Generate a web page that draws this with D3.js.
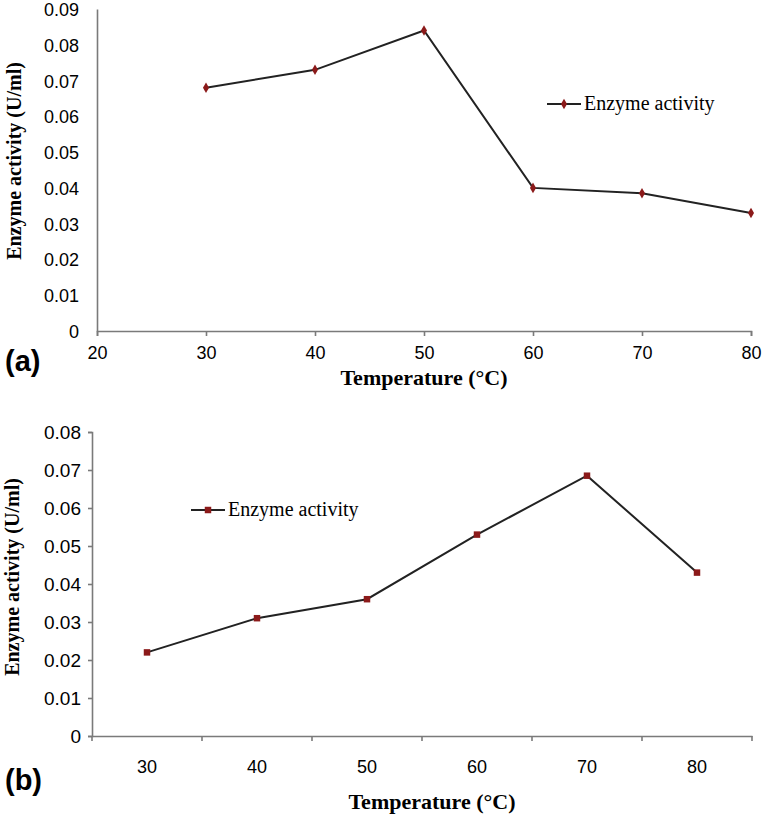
<!DOCTYPE html>
<html><head><meta charset="utf-8">
<script src="https://cdn.jsdelivr.net/npm/d3@7"></script>
<style>
html,body{margin:0;padding:0;background:#fff;}
svg{display:block;}
</style></head>
<body>
<svg id="chart" width="765" height="818"></svg>
<script>
// Panel (a)
const tempsA = [30, 40, 50, 60, 70, 80];
const activityA = [0.068, 0.073, 0.084, 0.040, 0.0385, 0.033];
const xTicksA = [20, 30, 40, 50, 60, 70, 80];
const yTicksA = [0, 0.01, 0.02, 0.03, 0.04, 0.05, 0.06, 0.07, 0.08, 0.09];
// Panel (b)
const tempsB = ["30", "40", "50", "60", "70", "80"];
const activityB = [0.022, 0.031, 0.036, 0.053, 0.0685, 0.043];
const yTicksB = [0, 0.01, 0.02, 0.03, 0.04, 0.05, 0.06, 0.07, 0.08];
const seriesName = "Enzyme activity";
const xTitle = "Temperature (\u00B0C)";
const yTitle = "Enzyme activity  (U/ml)";

const svg = d3.select("#chart");
const axisColor = "#7a7a7a";
const lineColor = "#222";
const markColor = "#8b1a1a";
const tickFont = "'Liberation Sans', Arial, sans-serif";
const serif = "'Liberation Serif', 'Times New Roman', serif";

// ---------- Panel (a) ----------
const xA = d3.scaleLinear().domain([20, 80]).range([97, 751]);
const yA = d3.scaleLinear().domain([0, 0.09]).range([331, 9]);
const gA = svg.append("g");

gA.append("g").attr("transform", `translate(0,${yA(0)})`)
  .call(d3.axisBottom(xA).tickValues(xTicksA).tickSize(5).tickFormat(d3.format("d")))
  .call(g => {
    g.select(".domain").attr("stroke", axisColor).attr("stroke-width", 1.6);
    g.selectAll(".tick line").attr("stroke", axisColor).attr("stroke-width", 1.6);
    g.selectAll(".tick text").attr("font-family", tickFont).attr("font-size", 18)
      .attr("fill", "#000").attr("dy", null).attr("y", 28);
  });
gA.append("g").attr("transform", `translate(${xA(20)},0)`)
  .call(d3.axisLeft(yA).tickValues(yTicksA).tickSize(0).tickPadding(0)
    .tickFormat(d => d === 0 ? "0" : d3.format(".2f")(d)))
  .call(g => {
    g.select(".domain").attr("stroke", axisColor).attr("stroke-width", 1.6);
    g.selectAll(".tick text").attr("font-family", tickFont).attr("font-size", 18)
      .attr("fill", "#000").attr("x", -18).attr("dy", "0.36em");
  });

gA.append("path").datum(tempsA.map((t, i) => [t, activityA[i]]))
  .attr("fill", "none").attr("stroke", lineColor).attr("stroke-width", 2)
  .attr("d", d3.line().x(d => xA(d[0])).y(d => yA(d[1])));
gA.selectAll(".mA").data(tempsA.map((t, i) => [t, activityA[i]])).join("path")
  .attr("transform", d => `translate(${xA(d[0])},${yA(d[1])})`)
  .attr("d", d3.symbol(d3.symbolDiamond, 32)).attr("fill", markColor);

// legend a
const legA = gA.append("g").attr("transform", "translate(547,104)");
legA.append("line").attr("x1", 0).attr("x2", 34).attr("stroke", lineColor).attr("stroke-width", 2);
legA.append("path").attr("transform", "translate(17,0)").attr("d", d3.symbol(d3.symbolDiamond, 32)).attr("fill", markColor);
legA.append("text").attr("x", 37).attr("y", 6).text(seriesName)
  .attr("font-family", serif).attr("font-size", 20).attr("fill", "#000");

gA.append("text").attr("x", 424).attr("y", 385).attr("text-anchor", "middle")
  .attr("font-family", serif).attr("font-weight", "bold").attr("font-size", 22).text(xTitle);
gA.append("text").attr("transform", "translate(21,161) rotate(-90)").attr("text-anchor", "middle")
  .attr("font-family", serif).attr("font-weight", "bold").attr("font-size", 20).text(yTitle);
gA.append("text").attr("x", 5).attr("y", 371)
  .attr("font-family", tickFont).attr("font-weight", "bold").attr("font-size", 29).text("(a)");

// ---------- Panel (b) ----------
const xB = d3.scaleBand().domain(tempsB).range([92, 752]);
const yB = d3.scaleLinear().domain([0, 0.08]).range([736, 432]);
const gB = svg.append("g");

gB.append("g").attr("transform", `translate(0,${yB(0)})`)
  .call(d3.axisBottom(xB).tickSize(0).tickSizeOuter(0))
  .call(g => {
    g.select(".domain").attr("stroke", axisColor).attr("stroke-width", 1.6);
    g.selectAll(".tick text").attr("font-family", tickFont).attr("font-size", 18)
      .attr("fill", "#000").attr("dy", null).attr("y", 37);
  });
// boundary ticks
const bounds = tempsB.map(c => xB(c)).concat([xB.range()[1]]);
gB.selectAll(".bt").data(bounds).join("line")
  .attr("x1", d => d).attr("x2", d => d).attr("y1", yB(0)).attr("y2", yB(0) + 5)
  .attr("stroke", axisColor).attr("stroke-width", 1.6);

gB.append("g").attr("transform", `translate(${xB.range()[0]},0)`)
  .call(d3.axisLeft(yB).tickValues(yTicksB).tickSize(4).tickPadding(0)
    .tickFormat(d => d === 0 ? "0" : d3.format(".2f")(d)))
  .call(g => {
    g.select(".domain").attr("stroke", axisColor).attr("stroke-width", 1.6);
    g.selectAll(".tick line").attr("stroke", axisColor).attr("stroke-width", 1.6);
    g.selectAll(".tick text").attr("font-family", tickFont).attr("font-size", 19)
      .attr("fill", "#000").attr("x", -11).attr("dy", "0.36em");
  });

const ptsB = tempsB.map((t, i) => [t, activityB[i]]);
gB.append("path").datum(ptsB)
  .attr("fill", "none").attr("stroke", lineColor).attr("stroke-width", 2)
  .attr("d", d3.line().x(d => xB(d[0]) + xB.bandwidth() / 2).y(d => yB(d[1])));
gB.selectAll(".mB").data(ptsB).join("path")
  .attr("transform", d => `translate(${xB(d[0]) + xB.bandwidth() / 2},${yB(d[1])})`)
  .attr("d", d3.symbol(d3.symbolSquare, 42)).attr("fill", markColor);

const legB = gB.append("g").attr("transform", "translate(191,510)");
legB.append("line").attr("x1", 0).attr("x2", 34).attr("stroke", lineColor).attr("stroke-width", 2);
legB.append("path").attr("transform", "translate(17,0)").attr("d", d3.symbol(d3.symbolSquare, 42)).attr("fill", markColor);
legB.append("text").attr("x", 37).attr("y", 6).text(seriesName)
  .attr("font-family", serif).attr("font-size", 20).attr("fill", "#000");

gB.append("text").attr("x", 432).attr("y", 809).attr("text-anchor", "middle")
  .attr("font-family", serif).attr("font-weight", "bold").attr("font-size", 22).text(xTitle);
gB.append("text").attr("transform", "translate(19,577) rotate(-90)").attr("text-anchor", "middle")
  .attr("font-family", serif).attr("font-weight", "bold").attr("font-size", 20).text(yTitle);
gB.append("text").attr("x", 5).attr("y", 790)
  .attr("font-family", tickFont).attr("font-weight", "bold").attr("font-size", 29).text("(b)");
</script>
</body></html>
